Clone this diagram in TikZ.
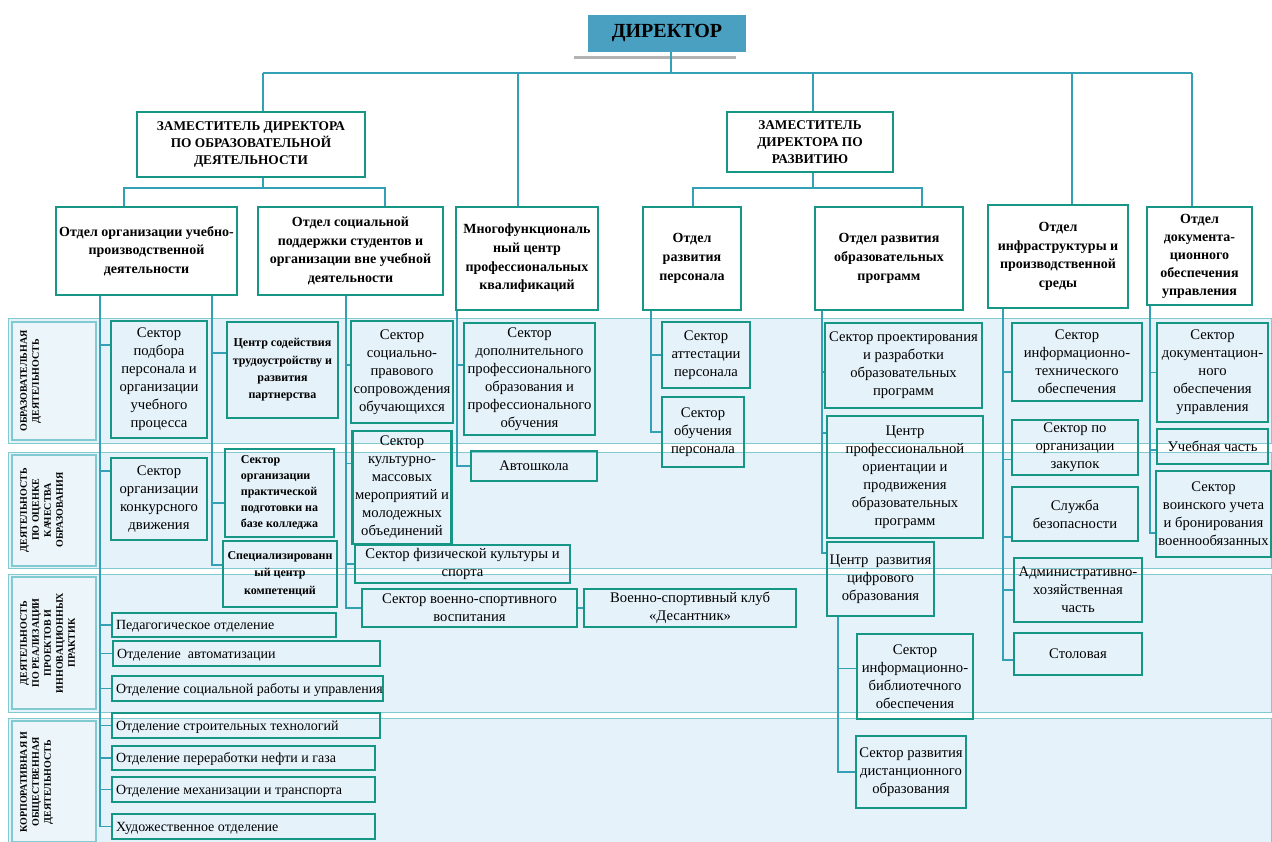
\documentclass[tikz,border=0pt]{standalone}
\usepackage{fontspec}
\setmainfont{Liberation Serif}
\usepackage{xcolor}

\definecolor{boxteal}{RGB}{22,150,132}
\definecolor{lineteal}{RGB}{52,160,182}
\definecolor{dirblue}{RGB}{74,160,192}
\definecolor{bandblue}{RGB}{229,242,250}
\definecolor{bandline}{RGB}{130,202,210}
\definecolor{lblblue}{RGB}{236,246,250}

\newcommand\rowtxt[2]{\makebox[#1][l]{#2}}

\begin{document}
\begin{tikzpicture}[x=0.75pt,y=0.75pt,yscale=-1,xscale=1,
	sz/.style 2 args={minimum width=#1*0.75pt,minimum height=#2*0.75pt},
	bx/.style={draw=boxteal,line width=1.8pt,inner sep=2pt,align=center},
	dirbox/.style={fill=dirblue,inner sep=2pt,font=\fontsize{15}{18}\selectfont\bfseries},
	zambox/.style={bx,fill=white,font=\fontsize{10}{13}\selectfont\bfseries},
	otdbox/.style={bx,fill=white,inner sep=1pt,font=\fontsize{10.5}{14}\selectfont\bfseries},
	secbox/.style={bx,font=\fontsize{11}{13.5}\selectfont},
	smallbox/.style={bx,font=\fontsize{9}{13}\selectfont\bfseries},
	rowbox/.style={draw=boxteal,line width=1.8pt,inner sep=3pt,text height=8pt,text depth=1pt,font=\fontsize{10.5}{13}\selectfont},
	lbl/.style={rotate=90,anchor=north,align=center,inner sep=0pt,font=\fontsize{7.5}{9}\selectfont\bfseries},
	ln/.style={draw=lineteal,line width=1.4pt}]

\fill[white] (0,0) rectangle (1272,842);
\useasboundingbox (0,0) rectangle (1272,842);

%Shape: Rectangle (bands)
\foreach \ya/\yb in {318/443,452/568,574/712,718/842}
	\filldraw[fill=bandblue,draw=bandline,line width=0.6pt] (8,\ya) rectangle (1271,\yb);
\foreach \ya/\yb in {322/440,455/566,577/709,721/842}
	\filldraw[fill=lblblue,draw=bandline,line width=0.8pt] (12,\ya) rectangle (96,\yb);

% Text Node (band labels)
\node[lbl] (lab1) at (20,381) {ОБРАЗОВАТЕЛЬНАЯ\\ДЕЯТЕЛЬНОСТЬ};
\node[lbl] (lab2) at (20,510) {ДЕЯТЕЛЬНОСТЬ\\ПО ОЦЕНКЕ\\КАЧЕСТВА\\ОБРАЗОВАНИЯ};
\node[lbl] (lab3) at (20,643) {ДЕЯТЕЛЬНОСТЬ\\ПО РЕАЛИЗАЦИИ\\ПРОЕКТОВ И\\ИННОВАЦИОННЫХ\\ПРАКТИК};
\node[lbl] (lab4) at (20,782) {КОРПОРАТИВНАЯ И\\ОБЩЕСТВЕННАЯ\\ДЕЯТЕЛЬНОСТЬ};

% Text Node (top)
\node[dirbox,sz={158}{37}] (dir) at (667,33.5) {ДИРЕКТОР};
\draw[gray!60,line width=2pt] ([xshift=-10pt,yshift=4pt]dir.south west) -- ([xshift=-8pt,yshift=4pt]dir.south east);
\node[zambox,sz={228}{65}] (zamobr) at (251,144.5) {ЗАМЕСТИТЕЛЬ ДИРЕКТОРА\\ПО ОБРАЗОВАТЕЛЬНОЙ\\ДЕЯТЕЛЬНОСТИ};
\node[zambox,sz={166}{60}] (zamraz) at (810,142) {ЗАМЕСТИТЕЛЬ\\ДИРЕКТОРА ПО\\РАЗВИТИЮ};

% Text Node (departments)
\node[otdbox,sz={181}{88}] (otdorg) at (146.5,251) {Отдел организации учебно-\\производственной\\деятельности};
\node[otdbox,sz={185}{88}] (otdsoc) at (350.5,251) {Отдел социальной\\поддержки студентов и\\организации вне учебной\\деятельности};
\node[otdbox,sz={142}{103}] (mfc) at (527,258.5) {Многофункциональ\\ный центр\\профессиональных\\квалификаций};
\node[otdbox,sz={98}{103}] (otdper) at (692,258.5) {Отдел\\развития\\персонала};
\node[otdbox,sz={148}{103}] (otdprog) at (889,258.5) {Отдел развития\\образовательных\\программ};
\node[otdbox,sz={140}{103}] (otdinf) at (1058,256.5) {Отдел\\инфраструктуры и\\производственной\\среды};
\node[otdbox,sz={105}{98},font=\fontsize{10.5}{13.5}\selectfont\bfseries] (otddoc) at (1199.5,256) {Отдел\\документа-\\ционного\\обеспечения\\управления};

% Text Node (sectors)
\node[secbox,sz={96}{117}] (podbor) at (159,379.5) {Сектор\\подбора\\персонала и\\организации\\учебного\\процесса};
\node[secbox,sz={96}{82}] (konkurs) at (159,499) {Сектор\\организации\\конкурсного\\движения};
\node[smallbox,sz={111}{96}] (csod) at (282.5,370) {Центр содействия\\трудоустройству и\\развития\\партнерства};
\node[smallbox,sz={109}{88},align=left,font=\fontsize{9}{12}\selectfont\bfseries] (praktika) at (279.5,493) {Сектор\\организации\\практической\\подготовки на\\базе колледжа};
\node[smallbox,sz={114}{66}] (speccentr) at (280,574) {Специализированн\\ый центр\\компетенций};
\node[secbox,sz={98}{102}] (socprav) at (402,372) {Сектор\\социально-\\правового\\сопровождения\\обучающихся};
\node[secbox,sz={98}{113}] (kultura) at (402,487.5) {Сектор\\культурно-\\массовых\\мероприятий и\\молодежных\\объединений};
\node[secbox,sz={215}{38}] (fizk) at (462.5,564) {Сектор физической культуры и\\спорта};
\node[secbox,sz={215}{38}] (voensp) at (469.5,608) {Сектор военно-спортивного\\воспитания};
\node[secbox,sz={212}{38}] (desant) at (690,608) {Военно-спортивный клуб\\«Десантник»};
\node[secbox,sz={131}{112}] (dpo) at (529.5,379) {Сектор\\дополнительного\\профессионального\\образования и\\профессионального\\обучения};
\node[secbox,sz={126}{30}] (avtoshk) at (534,466) {Автошкола};
\node[secbox,sz={88}{66}] (attest) at (706,355) {Сектор\\аттестации\\персонала};
\node[secbox,sz={82}{70}] (obuch) at (703,432) {Сектор\\обучения\\персонала};
\node[secbox,sz={157}{85}] (proekt) at (903.5,365.5) {Сектор проектирования\\и разработки\\образовательных\\программ};
\node[secbox,sz={156}{122}] (proforient) at (905,477) {Центр\\профессиональной\\ориентации и\\продвижения\\образовательных\\программ};
\node[secbox,sz={107}{74}] (cifr) at (880.5,579) {Центр~~развития\\цифрового\\образования};
\node[secbox,sz={116}{85}] (infobib) at (915,676.5) {Сектор\\информационно-\\библиотечного\\обеспечения};
\node[secbox,sz={110}{72}] (distant) at (911,772) {Сектор развития\\дистанционного\\образования};
\node[secbox,sz={130}{78}] (inftech) at (1077,362) {Сектор\\информационно-\\технического\\обеспечения};
\node[secbox,sz={126}{55}] (zakup) at (1075,447.5) {Сектор по\\организации\\закупок};
\node[secbox,sz={126}{54}] (bezop) at (1075,514) {Служба\\безопасности};
\node[secbox,sz={128}{64}] (ahch) at (1078,590) {Административно-\\хозяйственная\\часть};
\node[secbox,sz={128}{42}] (stol) at (1078,654) {Столовая};
\node[secbox,sz={111}{99}] (docsec) at (1212.5,372.5) {Сектор\\документацион-\\ного\\обеспечения\\управления};
\node[secbox,sz={111}{35}] (uchch) at (1212.5,446.5) {Учебная часть};
\node[secbox,sz={113}{86}] (voinsk) at (1213.5,514) {Сектор\\воинского учета\\и бронирования\\военнообязанных};

% Text Node (branches)
\node[rowbox,sz={224}{24}] (ped) at (224,625) {\rowtxt{162pt}{Педагогическое отделение}};
\node[rowbox,sz={267}{25}] (avt) at (246.5,653.5) {\rowtxt{194pt}{Отделение~~автоматизации}};
\node[rowbox,sz={271}{25}] (socr) at (247.5,688.5) {\rowtxt{197pt}{Отделение социальной работы и управления}};
\node[rowbox,sz={268}{25}] (stroy) at (246,725.5) {\rowtxt{195pt}{Отделение строительных технологий}};
\node[rowbox,sz={263}{24}] (neft) at (243.5,758) {\rowtxt{191pt}{Отделение переработки нефти и газа}};
\node[rowbox,sz={263}{25}] (mech) at (243.5,789.5) {\rowtxt{191pt}{Отделение механизации и транспорта}};
\node[rowbox,sz={263}{25}] (hud) at (243.5,826.5) {\rowtxt{191pt}{Художественное отделение}};

%Straight Lines (upper levels)
\coordinate (bA) at (263,73);
\coordinate (bB) at (518,73);
\coordinate (bC) at (671,73);
\coordinate (bD) at (813,73);
\coordinate (bE) at (1072,73);
\coordinate (bF) at (1192,73);
\draw[ln] (bA) -- (bF);
\draw[ln] (bC |- dir.south) -- (bC);
\draw[ln] (bA) -- (bA |- zamobr.north);
\draw[ln] (bB) -- (bB |- mfc.north);
\draw[ln] (bD) -- (bD |- zamraz.north);
\draw[ln] (bE) -- (bE |- otdinf.north);
\draw[ln] (bF) -- (bF |- otddoc.north);
\coordinate (cA) at (124,188);
\coordinate (cB) at (385,188);
\coordinate (cC) at (693,188);
\coordinate (cD) at (922,188);
\draw[ln] (bA |- zamobr.south) -- (bA |- cA);
\draw[ln] (cA |- otdorg.north) -- (cA) -- (cB) -- (cB |- otdsoc.north);
\draw[ln] (bD |- zamraz.south) -- (bD |- cC);
\draw[ln] (cC |- otdper.north) -- (cC) -- (cD) -- (cD |- otdprog.north);

%Straight Lines (spines)
\coordinate (s1) at (100,0);
\coordinate (s2) at (212,0);
\coordinate (s3) at (346,0);
\coordinate (s4) at (457,0);
\coordinate (s5) at (651,0);
\coordinate (s6) at (822,0);
\coordinate (s7) at (838,0);
\coordinate (s8) at (1003,0);
\coordinate (s9) at (1150,0);
\draw[ln] (s1 |- otdorg.south) |- ([yshift=-26pt]podbor.west);
\draw[ln] (s1 |- otdorg.south) |- ([yshift=-21pt]konkurs.west);
\foreach \n in {ped,avt,socr,stroy,neft,mech,hud}
	\draw[ln] (s1 |- otdorg.south) |- (\n.west);
\draw[ln] (s2 |- otdorg.south) |- ([yshift=-13pt]csod.west);
\draw[ln] (s2 |- otdorg.south) |- ([yshift=7.5pt]praktika.west);
\draw[ln] (s2 |- otdorg.south) |- ([yshift=-7pt]speccentr.west);
\draw[ln] (s3 |- otdsoc.south) |- ([yshift=-5pt]socprav.west);
\draw[ln] (s3 |- otdsoc.south) |- ([yshift=-18pt]kultura.west);
\draw[ln] (s3 |- otdsoc.south) |- (fizk.west);
\draw[ln] (s3 |- otdsoc.south) |- (voensp.west);
\draw[ln] (voensp) -- (desant);
\draw[ln] (s4 |- mfc.south) |- ([yshift=-10.5pt]dpo.west);
\draw[ln] (s4 |- mfc.south) |- (avtoshk.west);
\draw[ln] (s5 |- otdper.south) |- (attest.west);
\draw[ln] (s5 |- otdper.south) |- (obuch.west);
\draw[ln] (s6 |- otdprog.south) |- ([yshift=5pt]proekt.west);
\draw[ln] (s6 |- otdprog.south) |- ([yshift=-33pt]proforient.west);
\draw[ln] (s6 |- otdprog.south) |- ([yshift=-19.5pt]cifr.west);
\draw[ln] (s7 |- cifr.south) |- ([yshift=-6pt]infobib.west);
\draw[ln] (s7 |- cifr.south) |- (distant.west);
\draw[ln] (s8 |- otdinf.south) |- ([yshift=7.5pt]inftech.west);
\draw[ln] (s8 |- otdinf.south) |- ([yshift=9pt]zakup.west);
\draw[ln] (s8 |- otdinf.south) |- ([yshift=17pt]bezop.west);
\draw[ln] (s8 |- otdinf.south) |- (ahch.west);
\draw[ln] (s8 |- otdinf.south) |- ([yshift=4.5pt]stol.west);
\draw[ln] (s9 |- otddoc.south) |- (docsec.west);
\draw[ln] (s9 |- otddoc.south) |- ([yshift=2.5pt]uchch.west);
\draw[ln] (s9 |- otddoc.south) |- ([yshift=14pt]voinsk.west);

\end{tikzpicture}
\end{document}
